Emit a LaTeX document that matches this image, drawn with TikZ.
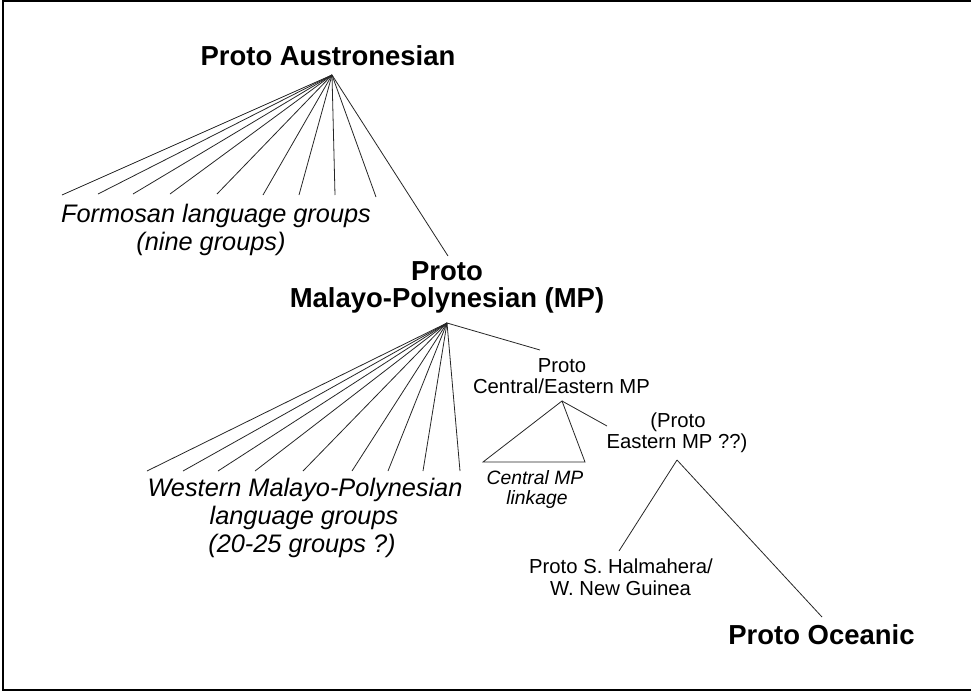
\documentclass[tikz,border=0pt]{standalone}
\usepackage{fontspec}
\setmainfont{Liberation Sans}
\begin{document}
\begin{tikzpicture}[x=0.75pt,y=-0.75pt,
  lbl/.style={anchor=base,inner sep=0pt,outer sep=0pt},
  boldlbl/.style={lbl,font=\fontsize{20.6}{24}\selectfont\bfseries},
  plainlbl/.style={lbl,font=\fontsize{15.2}{18}\selectfont},
  itlbl/.style={lbl,font=\fontsize{19}{22}\selectfont\itshape},
  smitlbl/.style={lbl,font=\fontsize{14.5}{17}\selectfont\itshape},
  branch/.style={line width=0.6pt,black!85},
  frameline/.style={line width=1.9pt,black}]
\useasboundingbox (0,0) rectangle (971,693);
\clip (0,0) rectangle (971,693);
\coordinate (fr1) at (985,1);
\coordinate (fr2) at (3,1);
\coordinate (fr3) at (3,690);
\coordinate (fr4) at (985,690);
\draw[frameline] (fr1) -- (fr2) -- (fr3) -- (fr4);

% Proto Austronesian
\node[boldlbl] (pan) at (328,65) {Proto Austronesian};
\coordinate (panroot) at (332,75);
\foreach \x/\y [count=\i] in {62/195,98/194,133/194,170/194,217/194,263/195,299/195,335/195,376/197}
  \coordinate (f\i) at (\x,\y);
\foreach \i in {1,...,9} \draw[branch] (panroot) -- (f\i);
\node[itlbl] (fo1) at (216,222) {Formosan language groups};
\node[itlbl] (fo2) at (211,250) {(nine groups)};

% Proto Malayo-Polynesian
\coordinate (pmptop) at (448,256);
\draw[branch] (panroot) -- (pmptop);
\node[boldlbl] (pmp1) at (447,280) {Proto};
\node[boldlbl] (pmp2) at (447,307) {Malayo-Polynesian (MP)};
\coordinate (pmproot) at (447,323);
\foreach \x [count=\i] in {147,183,218,255,303,352,388,423,460}
  \coordinate (w\i) at (\x,471);
\foreach \i in {1,...,9} \draw[branch] (pmproot) -- (w\i);
\node[itlbl] (wm1) at (305,496) {Western Malayo-Polynesian};
\node[itlbl] (wm2) at (304,524) {language groups};
\node[itlbl] (wm3) at (302,552) {(20-25 groups ?)};

% Proto Central/Eastern MP
\coordinate (cetop) at (540,350);
\draw[branch] (pmproot) -- (cetop);
\node[plainlbl] (ce1) at (562,372) {Proto};
\node[plainlbl] (ce2) at (561.5,393) {Central/Eastern MP};
\coordinate (ceroot) at (562,401);
\coordinate (cmpl) at (483,462);
\coordinate (cmpr) at (585,462);
\draw[branch] (cmpl) -- (ceroot) -- (cmpr) -- cycle;
\node[smitlbl] (cm1) at (535,484) {Central MP};
\node[smitlbl] (cm2) at (537,504) {linkage};

% Proto Eastern MP
\coordinate (emtop) at (607,426);
\draw[branch] (ceroot) -- (emtop);
\node[plainlbl] (em1) at (678,427) {(Proto};
\node[plainlbl] (em2) at (677,448) {Eastern MP ??)};
\coordinate (emroot) at (677,460);
\coordinate (haltop) at (619,551);
\coordinate (octop) at (822,617);
\draw[branch] (emroot) -- (haltop);
\draw[branch] (emroot) -- (octop);
\node[plainlbl] (ha1) at (621,573) {Proto S. Halmahera/};
\node[plainlbl] (ha2) at (620.5,595) {W. New Guinea};
\node[boldlbl] (oc) at (821.5,644) {Proto Oceanic};
\end{tikzpicture}
\end{document}
